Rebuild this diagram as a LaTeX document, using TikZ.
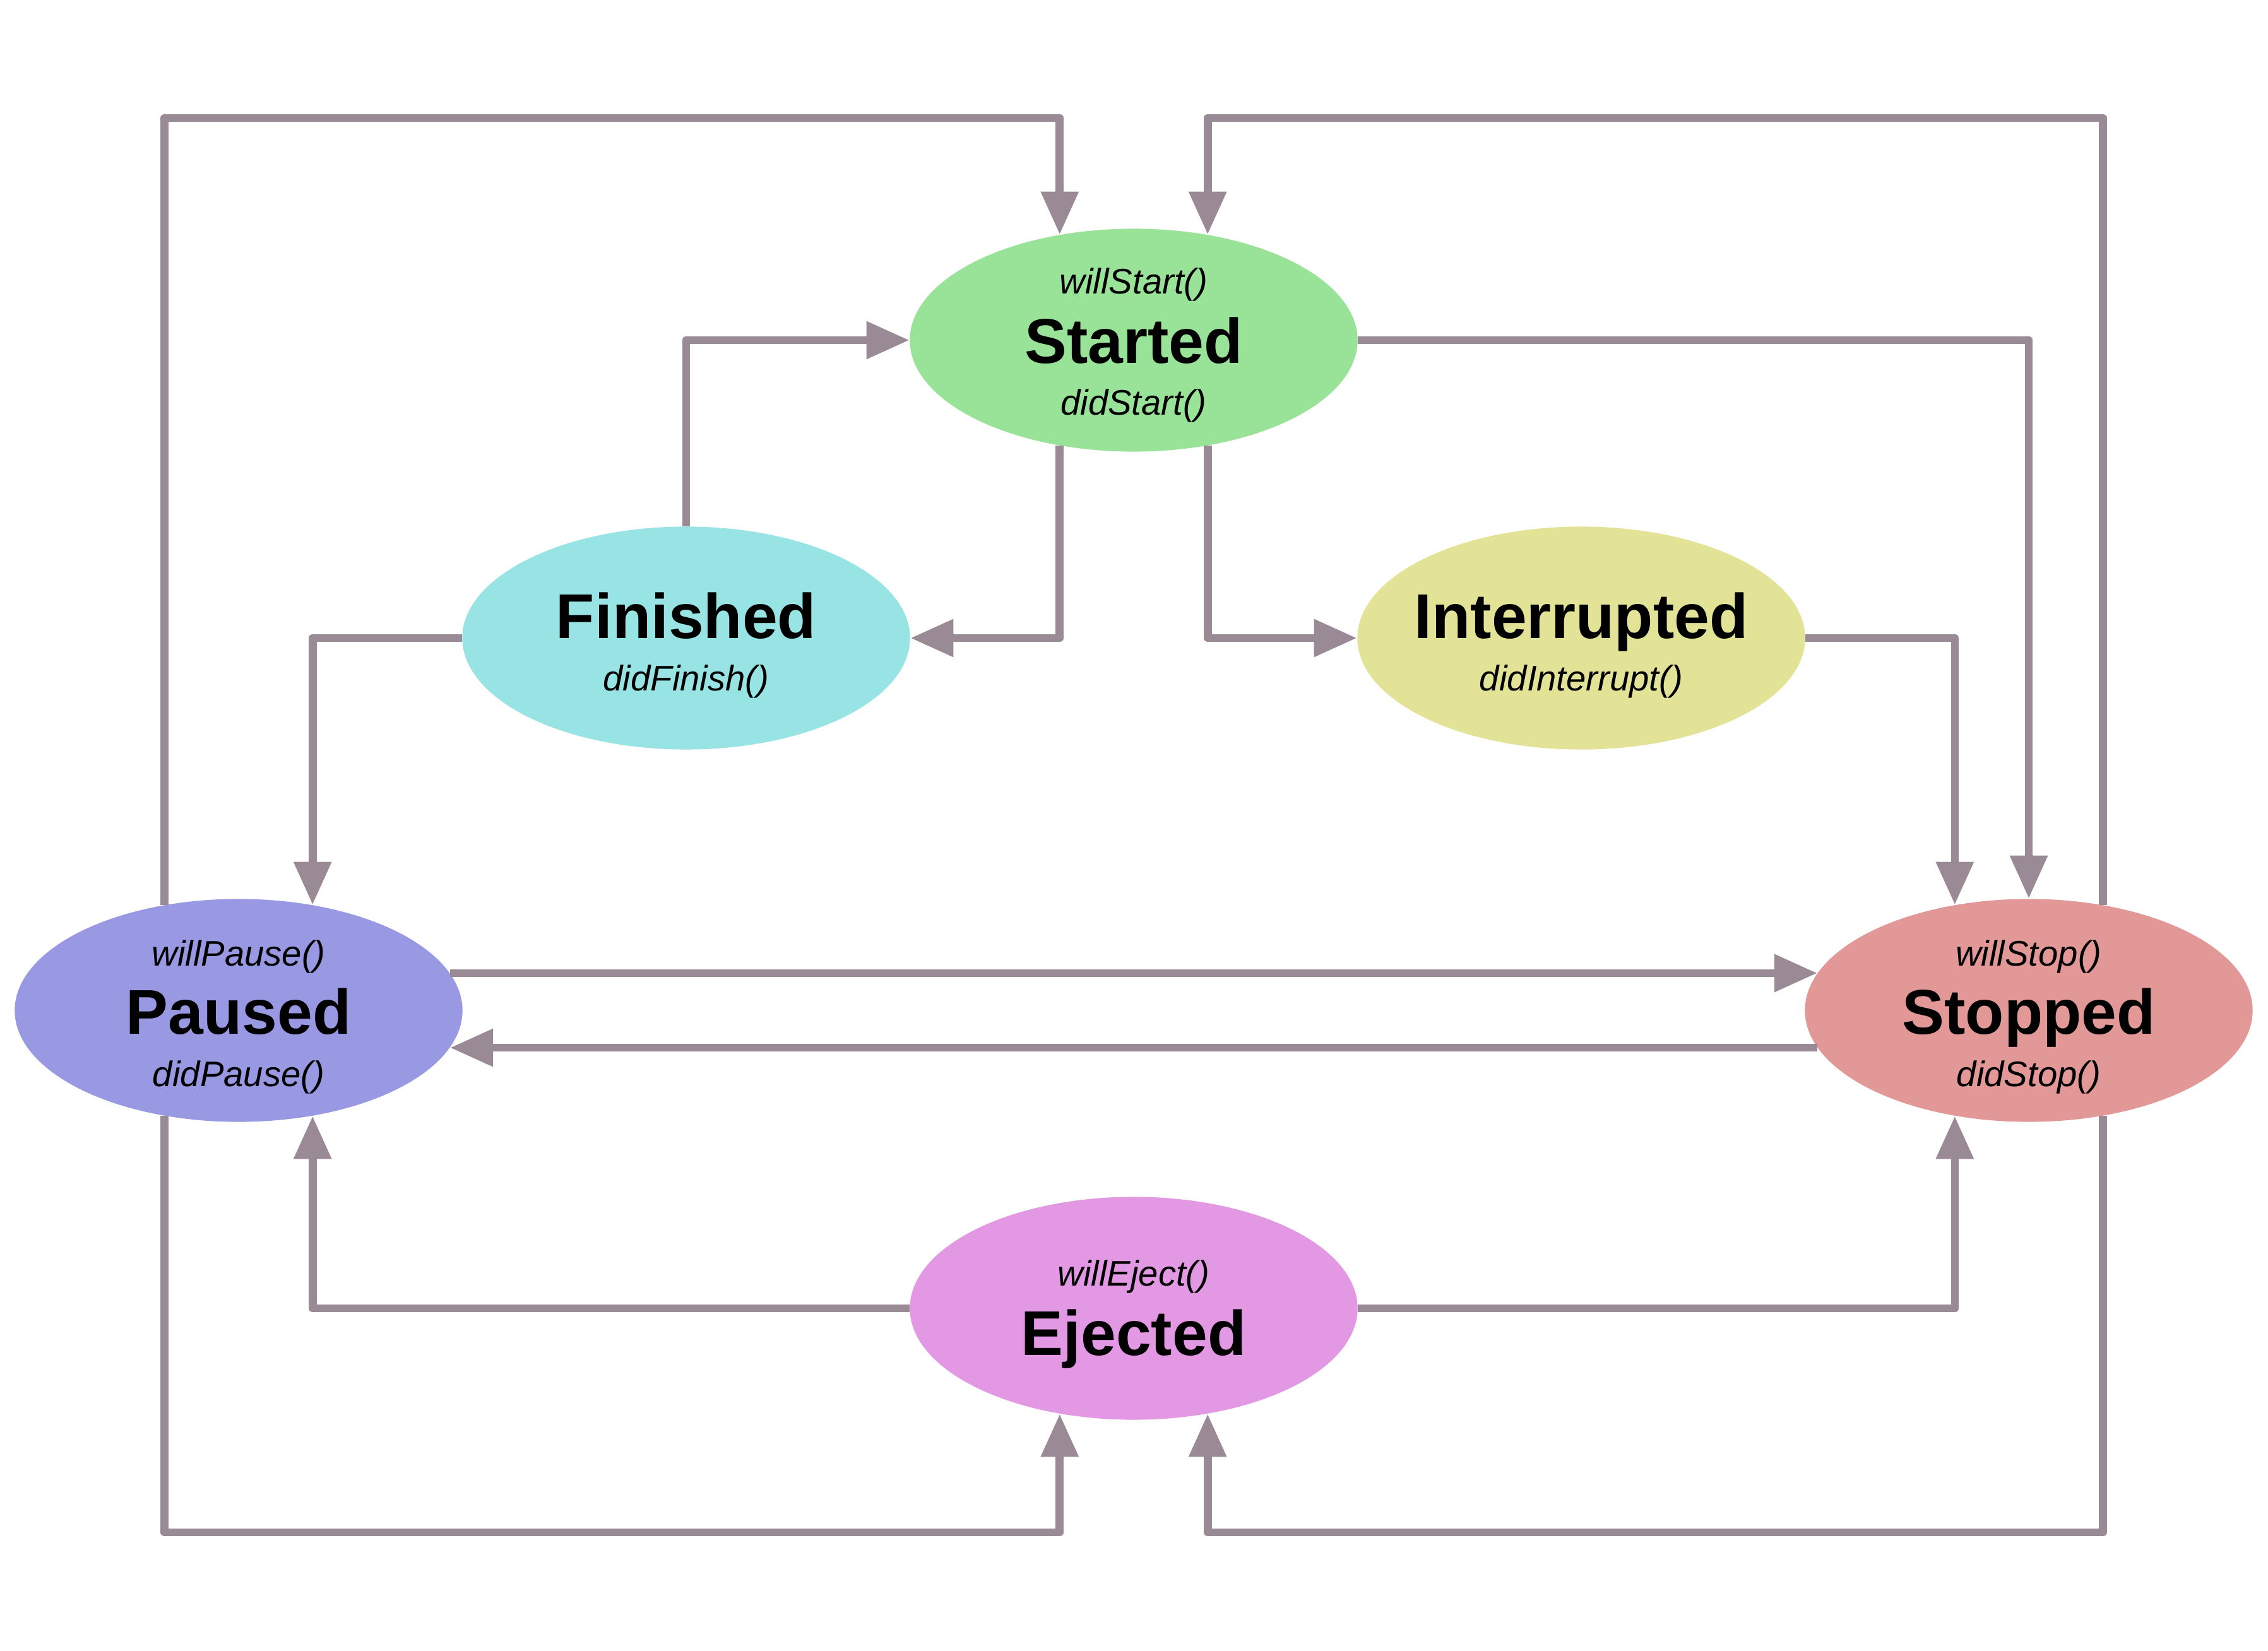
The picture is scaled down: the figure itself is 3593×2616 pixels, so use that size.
\documentclass[tikz,border=0pt]{standalone}
\usepackage{fontspec}
\setmainfont{Liberation Sans}
\usetikzlibrary{arrows.meta,shapes.geometric}

\definecolor{edge}{RGB}{154,138,149}
\definecolor{startedfill}{RGB}{152,227,152}
\definecolor{finishedfill}{RGB}{152,227,227}
\definecolor{interruptedfill}{RGB}{227,227,152}
\definecolor{pausedfill}{RGB}{153,153,227}
\definecolor{stoppedfill}{RGB}{227,152,152}
\definecolor{ejectedfill}{RGB}{227,152,227}

\begin{document}
\begin{tikzpicture}[x=0.01cm,y=-0.01cm,
  state/.style={ellipse,minimum width=7.09cm,minimum height=3.53cm,inner sep=0pt},
  title/.style={anchor=base,inner sep=0pt,font=\fontsize{28.5}{34}\selectfont\bfseries},
  hook/.style={anchor=base,inner sep=0pt,font=\fontsize{16}{19}\selectfont\itshape},
  flow/.style={draw=edge,line width=3.6pt,line join=round,-{Triangle[length=6.8mm,width=5.7mm]}}]
\fill[white] (0,0) rectangle (3593,2616);

% states
\node[state,fill=startedfill] (started) at (1796,539) {};
\node[state,fill=finishedfill] (finished) at (1087,1011) {};
\node[state,fill=interruptedfill] (interrupted) at (2505,1011) {};
\node[state,fill=pausedfill] (paused) at (378,1601) {};
\node[state,fill=stoppedfill] (stopped) at (3214,1601) {};
\node[state,fill=ejectedfill] (ejected) at (1796,2073) {};

% labels
\node[hook] (startedWill) at (1796,466) {willStart()};
\node[title] (startedName) at (1796,576) {Started};
\node[hook] (startedDid) at (1796,658) {didStart()};
\node[title] (finishedName) at (1087,1012) {Finished};
\node[hook] (finishedDid) at (1087,1095) {didFinish()};
\node[title] (interruptedName) at (2505,1012) {Interrupted};
\node[hook] (interruptedDid) at (2505,1095) {didInterrupt()};
\node[hook] (pausedWill) at (378,1530) {willPause()};
\node[title] (pausedName) at (378,1638) {Paused};
\node[hook] (pausedDid) at (378,1721) {didPause()};
\node[hook] (stoppedWill) at (3214,1530) {willStop()};
\node[title] (stoppedName) at (3214,1638) {Stopped};
\node[hook] (stoppedDid) at (3214,1721) {didStop()};
\node[hook] (ejectedWill) at (1796,2037) {willEject()};
\node[title] (ejectedName) at (1796,2147) {Ejected};

\coordinate (topline) at (0,187);
\coordinate (botline) at (0,2428);

% transitions
\draw[flow] (paused.125) -- (paused.125 |- topline) -- (topline -| started.125) -- (started.125);
\draw[flow] (stopped.55) -- (stopped.55 |- topline) -- (topline -| started.55) -- (started.55);
\draw[flow] (started.east) -| (stopped.north);
\draw[flow] (finished.north) |- (started.west);
\draw[flow] (started.235) |- (finished.east);
\draw[flow] (started.305) |- (interrupted.west);
\draw[flow] (interrupted.east) -| (stopped.125);
\draw[flow] (finished.west) -| (paused.55);
\draw[flow] (paused.10) -- (stopped.170);
\draw[flow] (stopped.190) -- (paused.350);
\draw[flow] (ejected.west) -| (paused.305);
\draw[flow] (ejected.east) -| (stopped.235);
\draw[flow] (paused.235) -- (paused.235 |- botline) -- (botline -| ejected.235) -- (ejected.235);
\draw[flow] (stopped.305) -- (stopped.305 |- botline) -- (botline -| ejected.305) -- (ejected.305);
\end{tikzpicture}
\end{document}
